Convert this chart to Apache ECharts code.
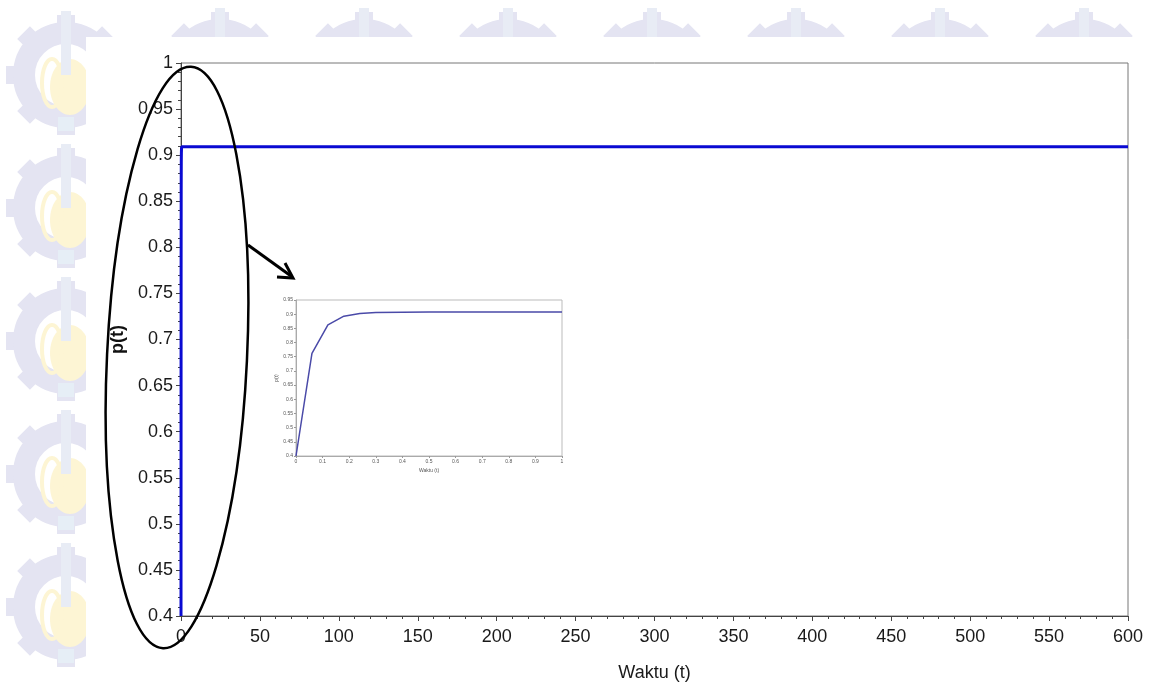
<!DOCTYPE html>
<html>
<head>
<meta charset="utf-8">
<script src="https://cdn.jsdelivr.net/npm/echarts@6/dist/echarts.min.js"></script>
<style>html,body{margin:0;padding:0;background:#fff}#c{width:1149px;height:689px}</style>
</head>
<body>
<div id="c"></div>
<script>
// Main chart data (t, p)
const mainT = [0, 0.06, 0.12, 0.18, 0.24, 0.3, 0.4, 600];
const mainP = [0.4, 0.762, 0.862, 0.893, 0.902, 0.906, 0.909, 0.909];
// Inset (zoom 0..1) data
const insetT = [0, 0.06, 0.12, 0.18, 0.24, 0.3, 0.4, 0.5, 1.0];
const insetP = [0.4, 0.762, 0.862, 0.893, 0.902, 0.906, 0.907, 0.908, 0.908];
// Axis labels
const xName = 'Waktu (t)';
const yName = 'p(t)';

const font = 'Liberation Sans, Arial, sans-serif';
const chart = echarts.init(document.getElementById('c'), null, {renderer: 'canvas'});

// faint watermark logos (decoration), covered by the white plot sheet
const gearCol = '#e4e4f2', yellowCol = '#fdf5d4', towerCol = '#e8ecf5';
function logo(cx, cy) {
  const els = [];
  const teeth = 8;
  for (let i = 0; i < teeth; i++) {
    const a = i * Math.PI * 2 / teeth;
    els.push({type: 'rect', shape: {x: -9, y: -60, width: 18, height: 16},
      x: cx, y: cy, rotation: a, z: -20, silent: true,
      style: {fill: gearCol}});
  }
  els.push({type: 'circle', shape: {cx: cx, cy: cy, r: 42}, z: -20, silent: true,
    style: {fill: 'none', stroke: gearCol, lineWidth: 22}});
  els.push({type: 'ellipse', shape: {cx: cx + 4, cy: cy + 12, rx: 20, ry: 28}, z: -19, silent: true,
    style: {fill: yellowCol}});
  els.push({type: 'ellipse', shape: {cx: cx - 14, cy: cy + 8, rx: 10, ry: 24}, z: -19, silent: true,
    style: {fill: 'none', stroke: yellowCol, lineWidth: 4}});
  els.push({type: 'rect', shape: {x: cx - 5, y: cy - 64, width: 10, height: 64}, z: -18, silent: true,
    style: {fill: towerCol}});
  els.push({type: 'rect', shape: {x: cx - 8, y: cy + 42, width: 16, height: 14}, z: -18, silent: true,
    style: {fill: '#e6eef6'}});
  return els;
}
const wm = [];
[75, 208, 341, 474, 607].forEach(y => wm.push(...logo(66, y)));
[220, 364, 508, 652, 796, 940, 1084].forEach(x => wm.push(...logo(x, 72)));
wm.push({type: 'rect', shape: {x: 86, y: 37, width: 1149 - 86, height: 689 - 37}, z: -10, silent: true,
  style: {fill: '#fff'}});

chart.setOption({
  animation: false,
  backgroundColor: '#fff',
  grid: [
    {left: 181, top: 63, right: 21, bottom: 73, show: true, borderColor: '#777', borderWidth: 1, backgroundColor: 'transparent'},
    {left: 296, top: 300, width: 266, height: 156, show: true, borderColor: '#bbb', borderWidth: 1, backgroundColor: '#fff'}
  ],
  xAxis: [
    {gridIndex: 0, type: 'value', min: 0, max: 600, interval: 50,
     name: xName, nameLocation: 'middle', nameGap: 48,
     nameTextStyle: {fontFamily: font, fontSize: 18, color: '#1a1a1a'},
     axisLine: {show: true, onZero: false, lineStyle: {color: '#444', width: 1}},
     axisTick: {show: true, length: 5, lineStyle: {color: '#444'}},
     minorTick: {show: true, splitNumber: 5, length: 3, lineStyle: {color: '#444'}},
     splitLine: {show: false},
     axisLabel: {fontFamily: font, fontSize: 18, color: '#1a1a1a', margin: 12}},
    {gridIndex: 1, type: 'value', min: 0, max: 1, interval: 0.1,
     name: xName, nameLocation: 'middle', nameGap: 12,
     nameTextStyle: {fontFamily: font, fontSize: 5, color: '#555'},
     axisLine: {show: true, onZero: false, lineStyle: {color: '#aaa', width: 1}},
     axisTick: {show: true, length: 2, lineStyle: {color: '#999'}},
     splitLine: {show: false},
     axisLabel: {fontFamily: font, fontSize: 5, color: '#555', margin: 3,
       formatter: v => (Math.round(v * 10) / 10).toString()}}
  ],
  yAxis: [
    {gridIndex: 0, type: 'value', min: 0.4, max: 1, interval: 0.05,
     name: yName, nameLocation: 'middle', nameGap: 48, nameRotate: 90,
     nameTextStyle: {fontFamily: font, fontSize: 18, fontWeight: 'bold', color: '#111'},
     axisLine: {show: true, onZero: false, lineStyle: {color: '#444', width: 1}},
     axisTick: {show: true, length: 5, lineStyle: {color: '#444'}},
     minorTick: {show: true, splitNumber: 5, length: 3, lineStyle: {color: '#444'}},
     splitLine: {show: false},
     axisLabel: {fontFamily: font, fontSize: 18, color: '#1a1a1a', margin: 8,
       formatter: v => (Math.round(v * 100) / 100).toString()}},
    {gridIndex: 1, type: 'value', min: 0.4, max: 0.95, interval: 0.05,
     name: yName, nameLocation: 'middle', nameGap: 14, nameRotate: 90,
     nameTextStyle: {fontFamily: font, fontSize: 5, color: '#555'},
     axisLine: {show: true, onZero: false, lineStyle: {color: '#aaa', width: 1}},
     axisTick: {show: true, length: 2, lineStyle: {color: '#999'}},
     splitLine: {show: false},
     axisLabel: {fontFamily: font, fontSize: 5, color: '#555', margin: 3,
       formatter: v => (Math.round(v * 100) / 100).toString()}}
  ],
  series: [
    {type: 'line', xAxisIndex: 0, yAxisIndex: 0, showSymbol: false, z: 3,
     data: mainT.map((t, i) => [t, mainP[i]]),
     lineStyle: {color: '#0a0ad2', width: 3}},
    {type: 'line', xAxisIndex: 1, yAxisIndex: 1, showSymbol: false, z: 5,
     data: insetT.map((t, i) => [t, insetP[i]]),
     lineStyle: {color: '#4a4aa8', width: 1.5}}
  ],
  graphic: wm.concat([
    {type: 'ellipse', shape: {cx: 177, cy: 357.5, rx: 70, ry: 291}, rotation: -0.048,
     originX: 177, originY: 357.5, z: 100,
     style: {fill: 'none', stroke: '#000', lineWidth: 2.5}},
    {type: 'line', shape: {x1: 248, y1: 245, x2: 291, y2: 276}, z: 100,
     style: {stroke: '#000', lineWidth: 3}},
    {type: 'polyline', shape: {points: [[285, 263], [293, 278], [277, 277]]}, z: 100,
     style: {stroke: '#000', lineWidth: 3, fill: 'none'}}
  ])
});
</script>
</body>
</html>
